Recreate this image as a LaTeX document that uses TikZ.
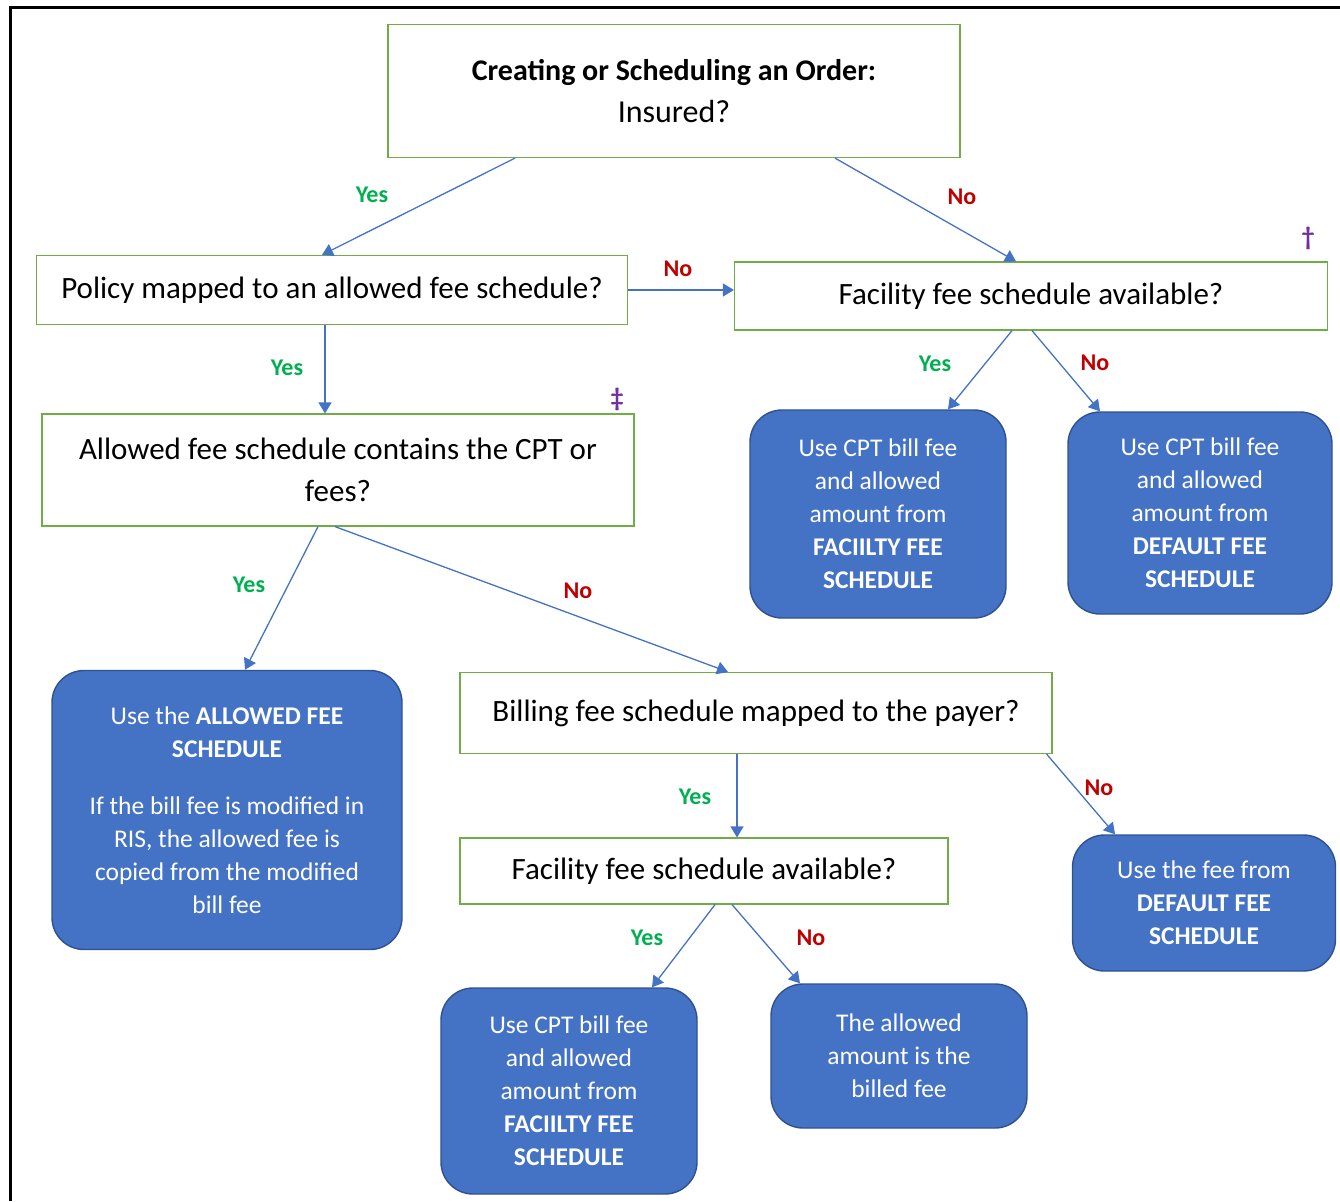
\documentclass[tikz,border=0pt]{standalone}
\usepackage{fontspec}
\setmainfont{Carlito}
\usepackage{tikz}
\usetikzlibrary{arrows.meta, positioning}
\definecolor{BoxGreen}{HTML}{70AD47}
\definecolor{FillBlue}{HTML}{4472C4}
\definecolor{EdgeBlue}{HTML}{2F528F}
\definecolor{YesGreen}{HTML}{00B050}
\definecolor{NoRed}{HTML}{C00000}
\definecolor{MarkPurple}{HTML}{7030A0}

\tikzset{
  question/.style={draw=BoxGreen,line width=1.2pt,fill=white,align=center,
    inner sep=0pt,font=\fontsize{31}{42}\selectfont},
  answer/.style={draw=EdgeBlue,line width=1.4pt,fill=FillBlue,rounded corners=32pt,
    text=white,align=center,inner sep=0pt,font=\fontsize{25.5}{33}\selectfont},
  flow/.style={FillBlue,line width=1.3pt,-{Triangle[width=13pt,length=11pt]}},
  yes/.style={text=YesGreen,font=\bfseries\fontsize{24}{26}\selectfont},
  no/.style={text=NoRed,font=\bfseries\fontsize{24}{26}\selectfont},
  footmark/.style={text=MarkPurple,font=\bfseries\fontsize{26}{28}\selectfont}
}

\begin{document}
\begin{tikzpicture}[x=1pt,y=-1pt]
\useasboundingbox (0,0) rectangle (1340,1201);
\draw[black,line width=3pt] (10,1201) -- (10,8) -- (1340,8);

% questions
\node[question,minimum width=572pt,minimum height=133pt] (order) at (674,91)
  {\textbf{\fontsize{30}{43}\selectfont Creating or Scheduling an Order:}\\{\fontsize{32}{43}\selectfont Insured?}};
\node[question,minimum width=591pt,minimum height=69pt] (policy) at (332,290)
  {Policy mapped to an allowed fee schedule?};
\node[question,minimum width=593pt,minimum height=68pt] (facilityA) at (1031,296)
  {Facility fee schedule available?};
\node[question,minimum width=592pt,minimum height=112pt] (allowed) at (338,470)
  {Allowed fee schedule contains the CPT or\\fees?};
\node[question,minimum width=592pt,minimum height=81pt] (billing) at (756,713)
  {Billing fee schedule mapped to the payer?};
\node[question,minimum width=488pt,minimum height=66pt] (facilityB) at (704,871)
  {Facility fee schedule available?};

% results
\node[answer,minimum width=256pt,minimum height=208pt] (facfeeA) at (878,514)
  {Use CPT bill fee\\and allowed\\amount from\\\textbf{FACIILTY FEE}\\\textbf{SCHEDULE}};
\node[answer,minimum width=264pt,minimum height=202pt] (defaultA) at (1200,513)
  {Use CPT bill fee\\and allowed\\amount from\\\textbf{DEFAULT FEE}\\\textbf{SCHEDULE}};
\node[answer,minimum width=350pt,minimum height=279pt] (allowedfee) at (227,810)
  {Use the \textbf{ALLOWED FEE}\\\textbf{SCHEDULE}\\[24pt]If the bill fee is modified in\\RIS, the allowed fee is\\copied from the modified\\bill fee};
\node[answer,minimum width=263pt,minimum height=136pt] (defaultB) at (1204,903)
  {Use the fee from\\\textbf{DEFAULT FEE}\\\textbf{SCHEDULE}};
\node[answer,minimum width=256pt,minimum height=206pt] (facfeeB) at (569,1091)
  {Use CPT bill fee\\and allowed\\amount from\\\textbf{FACIILTY FEE}\\\textbf{SCHEDULE}};
\node[answer,minimum width=256pt,minimum height=144pt] (billed) at (899,1056)
  {The allowed\\amount is the\\billed fee};

% connectors
\draw[flow] ([xshift=-159pt]order.south) -- ([xshift=-10pt]policy.north);
\draw[flow] ([xshift=161pt]order.south) -- ([xshift=-15pt]facilityA.north);
\draw[flow] (policy.east) -- (policy.east -| facilityA.west);
\draw[flow] ([xshift=-7pt]policy.south) -- ([xshift=-13pt]allowed.north);
\draw[flow] ([xshift=-19pt]facilityA.south) -- ([xshift=70pt]facfeeA.north);
\draw[flow] ([xshift=1pt]facilityA.south) -- ([xshift=-100pt]defaultA.north);
\draw[flow] ([xshift=-20pt]allowed.south) -- ([xshift=18pt]allowedfee.north);
\draw[flow] ([xshift=-3pt]allowed.south) -- ([xshift=-28pt]billing.north);
\draw[flow] ([xshift=-19pt]billing.south) -- ([xshift=33pt]facilityB.north);
\draw[flow] ([xshift=-6pt]billing.south east) -- ([xshift=-89pt]defaultB.north);
\draw[flow] ([xshift=11pt]facilityB.south) -- ([xshift=83pt]facfeeB.north);
\draw[flow] ([xshift=28pt]facilityB.south) -- ([xshift=-99pt]billed.north);

% answers on the connectors
\node[yes] (yesA) at (372,195) {Yes};
\node[no] (noA) at (962,197) {No};
\node[no] (noB) at (678,269) {No};
\node[yes] (yesB) at (287,368) {Yes};
\node[yes] (yesC) at (935,364) {Yes};
\node[no] (noC) at (1095,363) {No};
\node[yes] (yesD) at (249,585) {Yes};
\node[no] (noD) at (578,591) {No};
\node[yes] (yesE) at (695,797) {Yes};
\node[no] (noE) at (1099,788) {No};
\node[yes] (yesF) at (647,938) {Yes};
\node[no] (noF) at (811,938) {No};

% footnote marks
\node[footmark] (dagger) at (1308,238) {†};
\node[footmark] (ddagger) at (617,399) {‡};
\end{tikzpicture}
\end{document}
